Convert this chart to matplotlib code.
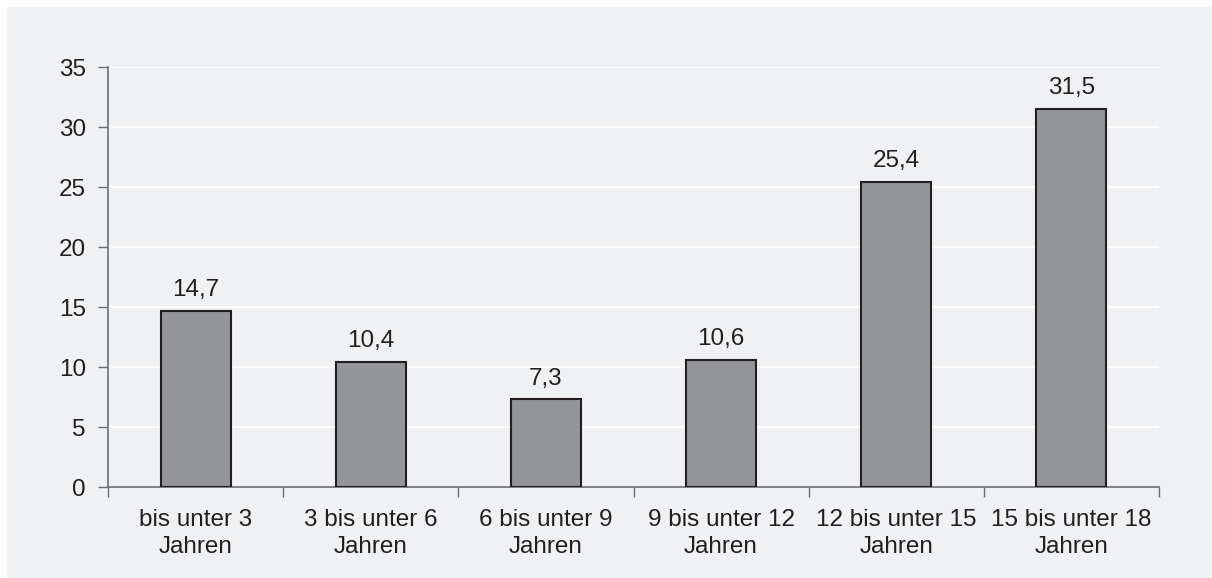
import matplotlib.pyplot as plt
import numpy as np

plt.rcParams['font.family'] = ['Liberation Sans', 'DejaVu Sans']

categories = ['bis unter 3\nJahren', '3 bis unter 6\nJahren', '6 bis unter 9\nJahren',
              '9 bis unter 12\nJahren', '12 bis unter 15\nJahren', '15 bis unter 18\nJahren']
values = [14.7, 10.4, 7.3, 10.6, 25.4, 31.5]
yticks = [0, 5, 10, 15, 20, 25, 30, 35]

bg = '#f0f1f3'
text_col = '#231f20'
fs = 17.5

fig = plt.figure(figsize=(12.12, 5.78), dpi=100, facecolor='white')
# gray panel with a thin white border at top/left
fig.patches.append(plt.Rectangle((7 / 1212, -0.01), 1.01, 1.01 - 7 / 578, transform=fig.transFigure,
                                 facecolor=bg, edgecolor='none', zorder=-1))
ax = fig.add_axes([108 / 1212, 1 - 487 / 578, 1051 / 1212, 420 / 578])
ax.set_facecolor(bg)

x = np.arange(len(categories))
ax.bar(x, values, width=0.4, color='#939598', edgecolor=text_col, linewidth=1.5, zorder=3)

for xi, v in zip(x, values):
    ax.annotate(f'{v:.1f}'.replace('.', ','), (xi, v), xytext=(0, 7), textcoords='offset points',
                ha='center', va='bottom', fontsize=fs, color=text_col)

ax.set_xlim(-0.5, len(categories) - 0.5)
ax.set_ylim(0, 35)
ax.set_yticks(yticks)
ax.set_yticklabels([str(t) for t in yticks], fontsize=fs, color=text_col)
ax.yaxis.grid(True, color='white', linewidth=1.2, zorder=0)
ax.set_axisbelow(True)

# category labels at centres, tick marks at the boundaries
ax.set_xticks(x)
ax.set_xticklabels(categories, fontsize=fs, color=text_col, linespacing=1.3)
ax.tick_params(axis='x', which='major', length=0, pad=16)
ax.set_xticks(np.arange(len(categories) + 1) - 0.5, minor=True)
ax.tick_params(axis='x', which='minor', length=7, width=1, color='#6d6e71', direction='out')
ax.tick_params(axis='y', length=7, width=1, color='#6d6e71', pad=9)

for s in ['top', 'right']:
    ax.spines[s].set_visible(False)
ax.spines['left'].set_color('#6d6e71')
ax.spines['bottom'].set_color('#6d6e71')
ax.spines['left'].set_linewidth(1.2)
ax.spines['bottom'].set_linewidth(1.2)

fig.savefig('out.png', dpi=100, facecolor=fig.get_facecolor())
